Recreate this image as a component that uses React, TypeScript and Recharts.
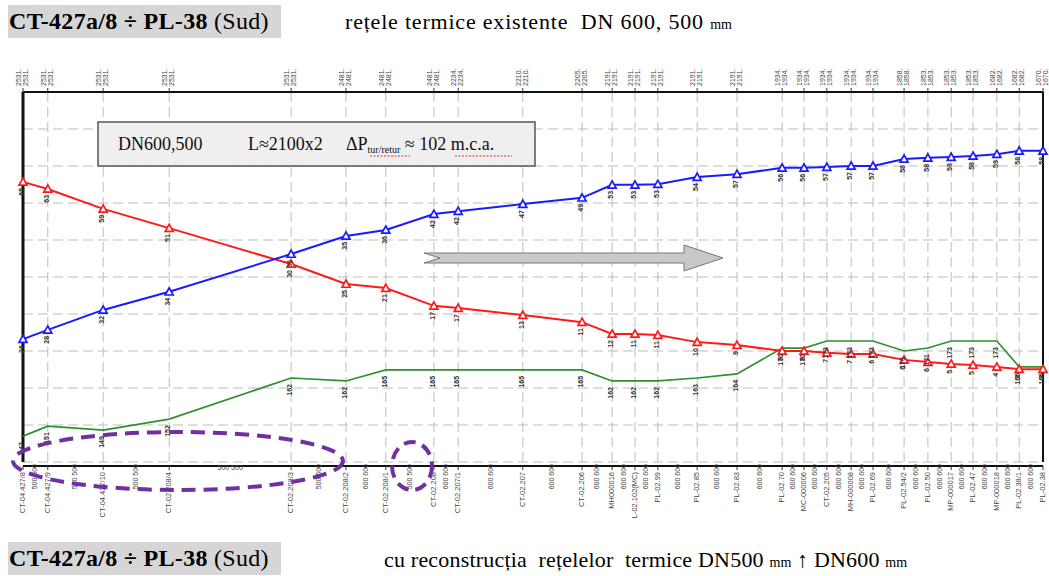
import React from "react";
import { LineChart, Line, XAxis, YAxis, CartesianGrid, LabelList, ReferenceLine } from "recharts";

// chainage of each chamber along the route (m)
const STATIONS = [0, 51, 165, 301, 552, 665, 747, 846, 896, 1029, 1151, 1213, 1260, 1307, 1388, 1470, 1563, 1608, 1655, 1705, 1750, 1814, 1863, 1911, 1956, 2005, 2051, 2100];

const STATION_NAMES = [
  "CT-04.427/8", "CT-04.427/9", "CT-04.427/10", "CT-02.208/4", "CT-02.208/3", "CT-02.208/2",
  "CT-02.208/1", "CT-02.208", "CT-02.207/1", "CT-02.207", "CT-02.206", "MH000016",
  "L-02.102(MC)", "PL-02.99", "PL-02.85", "PL-02.83", "PL-02.70", "MC-000006",
  "CT-02.205", "MH-000008", "PL-02.69", "PL-02.54/2", "PL-02.50", "MP-000017",
  "PL-02.47", "MP-000018", "PL-02.38/1", "PL-02.38",
];

const TOP_LABELS = [
  "2531.", "2531.", "2531.", "2531.", "2531.", "2481.", "2481.", "2481.", "2234.", "2210.",
  "2205.", "2191.", "2191.", "2191.", "2191.", "2191.", "1934.", "1934.", "1934.", "1934.",
  "1934.", "1858.", "1853.", "1853.", "1853.", "1682.", "1682.", "1670.",
];

// pipe diameter on each segment between chambers
const SEG_DN = [
  "500", "500", "500", "500", "500", "600", "500", "600", "600", "600", "600", "600", "600", "600",
  "600", "600", "600", "600", "600", "600", "600", "600", "600", "600", "600", "600", "600",
];

// piezometric heads (m)
const SUPPLY = [215.7, 213.8, 208.4, 203.2, 193.5, 188.1, 187.0, 182.2, 181.6, 179.7, 177.8, 174.6, 174.6, 174.3, 172.4, 171.6, 170.0, 170.0, 169.5, 169.2, 169.2, 167.6, 167.0, 166.5, 166.2, 165.7, 165.1, 165.1];
const RETURN = [173.2, 175.7, 181.1, 186.0, 196.2, 201.1, 202.7, 207.0, 207.8, 209.7, 211.4, 214.9, 214.9, 215.1, 217.0, 217.8, 219.5, 219.5, 219.7, 220.0, 220.0, 221.9, 222.2, 222.4, 222.7, 223.2, 224.1, 224.1];
const GROUND = [147.0, 149.7, 148.6, 151.6, 162.7, 161.9, 164.9, 164.9, 164.9, 164.9, 164.9, 161.9, 161.9, 161.9, 162.7, 163.8, 170.8, 170.8, 172.7, 172.7, 172.7, 170.0, 170.8, 172.7, 172.7, 172.7, 165.7, 165.7];

const SUPPLY_LBL = ["65", "63", "59", "51", "30", "25", "21", "17", "17", "13", "11", "12", "11", "11", "10", "9", "8", "8", "7", "7", "6", "6", "6", "5", "5", "4", "3", "3"];
const RETURN_LBL = ["26", "28", "32", "34", "30", "35", "36", "42", "42", "47", "49", "53", "53", "53", "54", "57", "56", "56", "57", "57", "57", "58", "58", "58", "58", "59", "58", "58"];
const GROUND_LBL = ["147", "151", "149", "152", "162", "162", "165", "165", "165", "165", "165", "162", "162", "162", "163", "164", "170", "170", "173", "173", "173", "170", "171", "173", "173", "173", "166", "166"];

const Y_TICKS = [140, 150, 160, 170, 180, 190, 200, 210, 220, 230, 240];

const data = STATIONS.map((x, i) => ({
  x,
  supply: SUPPLY[i],
  ret: RETURN[i],
  ground: GROUND[i],
  sLbl: SUPPLY_LBL[i],
  rLbl: RETURN_LBL[i],
  gLbl: GROUND_LBL[i],
}));

const midpoints = STATIONS.slice(1).map((s, i) => (s + STATIONS[i]) / 2);

const SMALL = "Liberation Sans";

const triDot = (color: string) => (p: any) => {
  const { cx, cy, index } = p;
  if (cx == null || cy == null) return <g key={index} />;
  const s = 4;
  return (
    <path
      key={index}
      d={`M${cx},${cy - s}L${cx + s},${cy + s * 0.8}L${cx - s},${cy + s * 0.8}Z`}
      fill="#fff"
      stroke={color}
      strokeWidth={1.7}
    />
  );
};

const vLabel = (dx: number, dy: number) => (p: any) => {
  const { x, y, value, index } = p;
  if (x == null || y == null) return null;
  const tx = x + dx;
  const ty = y + dy;
  return (
    <text key={index} x={tx} y={ty} transform={`rotate(-90 ${tx} ${ty})`} textAnchor="end" fontSize={7} fontWeight="bold" fill="#333" fontFamily={SMALL}>
      {value}
    </text>
  );
};

const TopTick = (p: any) => {
  const { x, y, payload } = p;
  const i = STATIONS.indexOf(payload.value);
  const lbl = TOP_LABELS[i] ?? "";
  return (
    <g>
      {[-2, 5].map((dx) => (
        <text key={dx} x={x + dx} y={y} transform={`rotate(-90 ${x + dx} ${y})`} fontSize={7} fill="#444" fontFamily={SMALL}>
          {lbl}
        </text>
      ))}
    </g>
  );
};

const StationTick = (p: any) => {
  const { x, y, payload } = p;
  const i = STATIONS.indexOf(payload.value);
  const tx = x + 2;
  return (
    <text x={tx} y={y} transform={`rotate(-90 ${tx} ${y})`} textAnchor="end" fontSize={7.5} fill="#444" fontFamily={SMALL}>
      {STATION_NAMES[i] ?? ""}
    </text>
  );
};

const SegTick = (p: any) => {
  const { x, y, payload } = p;
  const i = midpoints.indexOf(payload.value);
  const dn = SEG_DN[i] ?? "";
  const len = STATIONS[i + 1] - STATIONS[i];
  if (len > 150) {
    return (
      <text x={x} y={y + 6} textAnchor="middle" fontSize={7} fill="#444" fontFamily={SMALL}>
        {`${dn}     ${dn}`}
      </text>
    );
  }
  const tx = x + 2;
  return (
    <text x={tx} y={y} transform={`rotate(-90 ${tx} ${y})`} textAnchor="end" fontSize={7} fill="#444" fontFamily={SMALL}>
      {`${dn}      ${dn}`}
    </text>
  );
};

const boxStyle: React.CSSProperties = {
  position: "absolute",
  left: 8,
  width: 272,
  height: 33,
  background: "#d6d6d6",
  fontSize: 24,
  lineHeight: "33px",
  whiteSpace: "pre",
  paddingLeft: 1,
  letterSpacing: 0.3,
};

export default function App() {
  return (
    <div style={{ position: "absolute", left: 0, top: 0, width: 1049, height: 576, background: "#fff", fontFamily: "Liberation Serif", overflow: "hidden" }}>
      <div style={{ ...boxStyle, top: 5 }}>
        <b>CT-427a/8 ÷ PL-38</b> (Sud)
      </div>
      <div style={{ position: "absolute", left: 345, top: 8, fontSize: 22, lineHeight: "28px", whiteSpace: "pre", letterSpacing: 0.8 }}>
        rețele termice existente  DN 600, 500 <span style={{ fontSize: 14, letterSpacing: 0 }}>mm</span>
      </div>

      <LineChart width={1049} height={576} data={data} margin={{ top: 88, right: 6, bottom: 106, left: 23 }} style={{ position: "absolute", left: 0, top: 0 }}>
        <CartesianGrid stroke="#bdbdbd" strokeDasharray="10 5" />
        <XAxis
          dataKey="x"
          type="number"
          domain={[0, 2100]}
          ticks={STATIONS}
          interval={0}
          orientation="top"
          height={4}
          axisLine={{ stroke: "#111", strokeWidth: 2 }}
          tickLine={{ stroke: "#333" }}
          tickSize={4}
          tick={<TopTick />}
        />
        <XAxis
          xAxisId="st"
          dataKey="x"
          type="number"
          domain={[0, 2100]}
          ticks={STATIONS}
          interval={0}
          orientation="bottom"
          height={4}
          axisLine={{ stroke: "#111", strokeWidth: 2 }}
          tickLine={{ stroke: "#333" }}
          tickSize={4}
          tick={<StationTick />}
        />
        <XAxis
          xAxisId="seg"
          dataKey="x"
          type="number"
          domain={[0, 2100]}
          ticks={midpoints}
          interval={0}
          orientation="bottom"
          height={4}
          axisLine={false}
          tickLine={false}
          tickSize={0}
          tick={<SegTick />}
        />
        <YAxis type="number" domain={[140, 240]} ticks={Y_TICKS} hide />
        <ReferenceLine x={0} stroke="#111" strokeWidth={3} />
        <ReferenceLine x={2100} stroke="#111" strokeWidth={2} />
        <Line dataKey="ground" stroke="#2f8f2f" strokeWidth={1.7} dot={false} isAnimationActive={false}>
          <LabelList dataKey="gLbl" content={vLabel(1, 6)} />
        </Line>
        <Line dataKey="supply" stroke="#ff1a1a" strokeWidth={2} dot={triDot("#ff1a1a")} isAnimationActive={false}>
          <LabelList dataKey="sLbl" content={vLabel(1, 6)} />
        </Line>
        <Line dataKey="ret" stroke="#1a1aff" strokeWidth={2} dot={triDot("#1a1aff")} isAnimationActive={false}>
          <LabelList dataKey="rLbl" content={vLabel(1, 6)} />
        </Line>
      </LineChart>

      <svg width={1049} height={576} style={{ position: "absolute", left: 0, top: 0, pointerEvents: "none" }}>
        <rect x={98} y={122} width={437} height={44} fill="#efefef" stroke="#555" strokeWidth={1.5} />
        <g fontFamily="Liberation Serif" fontSize={18} fill="#111">
          <text x={118} y={150}>DN600,500</text>
          <text x={248} y={150}>L≈2100x2</text>
          <text x={346} y={150}>
            ΔP<tspan fontSize={10} dy={3}>tur/retur</tspan>
            <tspan dy={-3}> ≈ 102 m.c.a.</tspan>
          </text>
        </g>
        <path d="M370,156 l40,0 M455,156 l57,0" stroke="#e03030" strokeWidth={1} strokeDasharray="2 1.5" />
        <path d="M424,253 L684,253 L684,245 L723,258 L684,271 L684,263 L424,263 L440,258 Z" fill="#c8c8c8" stroke="#777" strokeWidth={1} />
        <ellipse cx={178} cy={461} rx={165} ry={29} fill="none" stroke="#7030a0" strokeWidth={4} strokeDasharray="14 8" />
        <ellipse cx={412} cy={466} rx={20} ry={24} fill="none" stroke="#7030a0" strokeWidth={4} strokeDasharray="12 7" />
      </svg>

      <div style={{ ...boxStyle, top: 542 }}>
        <b>CT-427a/8 ÷ PL-38</b> (Sud)
      </div>
      <div style={{ position: "absolute", left: 384, top: 546, fontSize: 22, lineHeight: "28px", whiteSpace: "pre", letterSpacing: 0.2 }}>
        cu reconstrucția  rețelelor  termice DN500 <span style={{ fontSize: 14, letterSpacing: 0 }}>mm</span> ↑ DN600 <span style={{ fontSize: 14, letterSpacing: 0 }}>mm</span>
      </div>
    </div>
  );
}
